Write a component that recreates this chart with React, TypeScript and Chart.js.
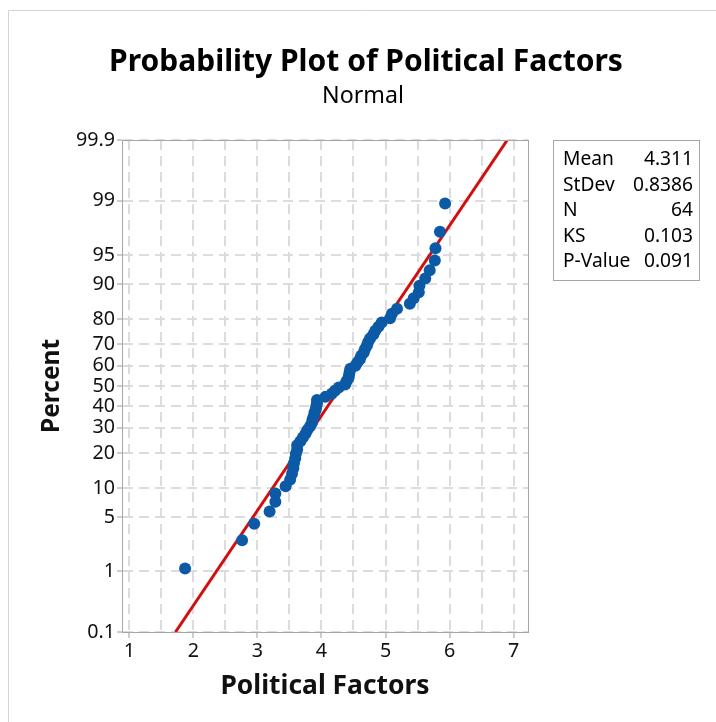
import React, { useEffect, useRef } from 'react';
import { Chart, registerables, LinearScale } from 'chart.js';

// ---------- data ----------
const TITLE = 'Probability Plot of Political Factors';
const SUBTITLE = 'Normal';
const X_TITLE = 'Political Factors';
const Y_TITLE = 'Percent';

const factorValues = [
  1.87, 2.76, 2.95, 3.19, 3.28, 3.28, 3.44, 3.51, 3.54, 3.56,
  3.57, 3.59, 3.6, 3.62, 3.62, 3.67, 3.71, 3.75, 3.78, 3.82,
  3.85, 3.86, 3.88, 3.89, 3.91, 3.92, 3.93, 3.93, 4.06, 4.16,
  4.21, 4.27, 4.37, 4.39, 4.42, 4.43, 4.44, 4.45, 4.53, 4.56,
  4.6, 4.62, 4.66, 4.68, 4.71, 4.73, 4.76, 4.81, 4.84, 4.89,
  4.94, 5.07, 5.1, 5.18, 5.38, 5.44, 5.52, 5.53, 5.62, 5.69,
  5.77, 5.78, 5.85, 5.93,
];

const percentValues = [
  1.09, 2.64, 4.19, 5.75, 7.3, 8.85, 10.4, 11.96, 13.51, 15.06,
  16.61, 18.17, 19.72, 21.27, 22.83, 24.38, 25.93, 27.48, 29.04, 30.59,
  32.14, 33.7, 35.25, 36.8, 38.35, 39.91, 41.46, 43.01, 44.57, 46.12,
  47.67, 49.22, 50.78, 52.33, 53.88, 55.43, 56.99, 58.54, 60.09, 61.65,
  63.2, 64.75, 66.3, 67.86, 69.41, 70.96, 72.52, 74.07, 75.62, 77.17,
  78.73, 80.28, 81.83, 83.39, 84.94, 86.49, 88.04, 89.6, 91.15, 92.7,
  94.25, 95.81, 97.36, 98.91,
];

const fitX = [1.72, 6.902];
const fitY = [0.1, 99.9];

const percentTicks = [0.1, 1, 5, 10, 20, 30, 40, 50, 60, 70, 80, 90, 95, 99, 99.9];
const xGridValues = [1, 1.5, 2, 2.5, 3, 3.5, 4, 4.5, 5, 5.5, 6, 6.5, 7];
const xTickLabels = ['1', '2', '3', '4', '5', '6', '7'];

const statLabels = ['Mean', 'StDev', 'N', 'KS', 'P-Value'];
const statValues = ['4.311', '0.8386', '64', '0.103', '0.091'];

// ---------- probit helpers ----------
function normInv(p: number): number {
  const a = [-3.969683028665376e1, 2.209460984245205e2, -2.759285104469687e2, 1.38357751867269e2, -3.066479806614716e1, 2.506628277459239];
  const b = [-5.447609879822406e1, 1.615858368580409e2, -1.556989798598866e2, 6.680131188771972e1, -1.328068155288572e1];
  const c = [-7.784894002430293e-3, -3.223964580411365e-1, -2.400758277161838, -2.549732539343734, 4.374664141464968, 2.938163982698783];
  const d = [7.784695709041462e-3, 3.224671290700398e-1, 2.445134137142996, 3.754408661907416];
  const pp = Math.min(Math.max(p, 1e-9), 1 - 1e-9);
  const pl = 0.02425;
  let q: number, r: number;
  if (pp < pl) {
    q = Math.sqrt(-2 * Math.log(pp));
    return (((((c[0] * q + c[1]) * q + c[2]) * q + c[3]) * q + c[4]) * q + c[5]) / ((((d[0] * q + d[1]) * q + d[2]) * q + d[3]) * q + 1);
  }
  if (pp <= 1 - pl) {
    q = pp - 0.5;
    r = q * q;
    return ((((((a[0] * r + a[1]) * r + a[2]) * r + a[3]) * r + a[4]) * r + a[5]) * q) / (((((b[0] * r + b[1]) * r + b[2]) * r + b[3]) * r + b[4]) * r + 1);
  }
  q = Math.sqrt(-2 * Math.log(1 - pp));
  return -(((((c[0] * q + c[1]) * q + c[2]) * q + c[3]) * q + c[4]) * q + c[5]) / ((((d[0] * q + d[1]) * q + d[2]) * q + d[3]) * q + 1);
}

function normCdf(z: number): number {
  const t = 1 / (1 + 0.3275911 * Math.abs(z) / Math.SQRT2);
  const y = 1 - (((((1.061405429 * t - 1.453152027) * t) + 1.421413741) * t - 0.284496736) * t + 0.254829592) * t * Math.exp(-(z * z) / 2);
  return z >= 0 ? (1 + y) / 2 : (1 - y) / 2;
}

class ProbitScale extends LinearScale {
  static id = 'probit';
  static defaults = {};
  _zMin = 0;
  _zMax = 1;
  buildTicks() {
    const self: any = this;
    self.start = self.min;
    self.end = self.max;
    return percentTicks.map((v) => ({ value: v }));
  }
  configure() {
    super.configure();
    const self: any = this;
    this._zMin = normInv(self.min / 100);
    this._zMax = normInv(self.max / 100);
  }
  getPixelForValue(value: number) {
    const z = normInv(value / 100);
    return (this as any).getPixelForDecimal((z - this._zMin) / (this._zMax - this._zMin));
  }
  getValueForPixel(pixel: number) {
    const dec = (this as any).getDecimalForPixel(pixel);
    return normCdf(this._zMin + dec * (this._zMax - this._zMin)) * 100;
  }
}

Chart.register(...registerables, ProbitScale as any);

const FAMILY = '"Noto Sans", "DejaVu Sans", sans-serif';

function fitSize(text: string, weight: string, target: number): number {
  const c = document.createElement('canvas').getContext('2d')!;
  c.font = `${weight} 100px ${FAMILY}`;
  const w = c.measureText(text).width;
  return Math.round((100 * target) / w * 10) / 10;
}

export default function App() {
  const ref = useRef<HTMLCanvasElement | null>(null);

  useEffect(() => {
    document.body.style.margin = '0';
    const canvas = ref.current!;
    const titleSize = fitSize(TITLE, 'bold', 513);
    const subSize = fitSize(SUBTITLE, 'normal', 82);
    const yTitleSize = fitSize(Y_TITLE, 'bold', 94);
    const xTitleSize = fitSize(X_TITLE, 'bold', 209);
    const tickSize = fitSize('99.9', 'normal', 39);
    const statSize = fitSize('0.8386', 'normal', 60);

    const decor = {
      id: 'decor',
      beforeDraw(chart: any) {
        const { ctx } = chart;
        ctx.save();
        ctx.fillStyle = '#ffffff';
        ctx.fillRect(0, 0, chart.width, chart.height);
        ctx.strokeStyle = '#d4d4d4';
        ctx.lineWidth = 1;
        ctx.beginPath();
        ctx.moveTo(8.5, chart.height);
        ctx.lineTo(8.5, 10.5);
        ctx.lineTo(chart.width, 10.5);
        ctx.stroke();
        ctx.restore();
      },
      afterDraw(chart: any) {
        const { ctx, chartArea: ca } = chart;
        ctx.save();
        ctx.strokeStyle = '#a6a6a6';
        ctx.lineWidth = 1;
        ctx.strokeRect(Math.round(ca.left) + 0.5, Math.round(ca.top) + 0.5, Math.round(ca.right - ca.left), Math.round(ca.bottom - ca.top));

        ctx.fillStyle = '#000';
        ctx.textAlign = 'center';
        ctx.textBaseline = 'middle';
        ctx.font = `bold ${titleSize}px ${FAMILY}`;
        ctx.fillText(TITLE, 366, 62);
        ctx.font = `normal ${subSize}px ${FAMILY}`;
        ctx.fillText(SUBTITLE, 363, 96);

        // stats box
        const bx = 553, by = 140, bw = 146, bh = 140;
        ctx.strokeStyle = '#a6a6a6';
        ctx.strokeRect(bx + 0.5, by + 0.5, bw, bh);
        ctx.font = `normal ${statSize}px ${FAMILY}`;
        ctx.textBaseline = 'alphabetic';
        statLabels.forEach((lab, i) => {
          const y = 165 + i * 25.5;
          ctx.textAlign = 'left';
          ctx.fillText(lab, bx + 10, y);
          ctx.textAlign = 'right';
          ctx.fillText(statValues[i], bx + bw - 6, y);
        });
        ctx.restore();
      },
    };

    const chart = new Chart(canvas, {
      type: 'scatter',
      data: {
        datasets: [
          {
            label: 'Political Factors',
            data: factorValues.map((x, i) => ({ x, y: percentValues[i] })),
            backgroundColor: '#0c5aa6',
            borderColor: '#0c5aa6',
            pointRadius: 6,
            pointBorderWidth: 0,
          },
          {
            type: 'line',
            label: 'Fit',
            data: fitX.map((x, i) => ({ x, y: fitY[i] })),
            borderColor: '#d10f0f',
            borderWidth: 3,
            pointRadius: 0,
            showLine: true,
            fill: false,
          } as any,
        ],
      },
      options: {
        animation: false,
        responsive: false,
        events: [],
        layout: { padding: { left: 0, top: 140, right: 188, bottom: 0 } },
        plugins: {
          legend: { display: false },
          tooltip: { enabled: false },
          title: { display: false },
        },
        scales: {
          x: {
            type: 'linear',
            min: 0.885,
            max: 7.225,
            afterFit: (s: any) => { s.height = 90; },
            afterBuildTicks: (s: any) => { s.ticks = xGridValues.map((v) => ({ value: v })); },
            grid: {
              color: '#dcdcdc',
              lineWidth: 2,
              drawTicks: true,
              tickLength: 6,
              tickWidth: 1,
              tickColor: (ctx: any) => (ctx.tick && xTickLabels.includes(String(ctx.tick.value)) ? '#9a9a9a' : 'rgba(0,0,0,0)'),
              tickBorderDash: [],
            },
            border: { display: true, color: '#a6a6a6', width: 1, dash: [10, 6] },
            ticks: {
              autoSkip: false,
              maxRotation: 0,
              padding: 2,
              color: '#111',
              font: { family: FAMILY, size: tickSize },
              callback: (v: any) => (xTickLabels.includes(String(v)) ? String(v) : ''),
            },
            title: {
              display: true,
              text: X_TITLE,
              color: '#111',
              font: { family: FAMILY, size: xTitleSize, weight: 'bold' },
              padding: { top: 0, bottom: 36 - 0.6 * xTitleSize },
            },
          },
          y: {
            type: 'probit' as any,
            min: 0.1,
            max: 99.9,
            afterFit: (s: any) => { s.width = 122; },
            grid: {
              color: '#dcdcdc',
              lineWidth: 2,
              drawTicks: true,
              tickLength: 5,
              tickWidth: 1,
              tickColor: '#9a9a9a',
              tickBorderDash: [],
            },
            border: { display: true, color: '#a6a6a6', width: 1, dash: [10, 6] },
            ticks: {
              autoSkip: false,
              padding: 2,
              color: '#111',
              font: { family: FAMILY, size: tickSize },
              callback: (v: any) => String(v),
            },
            title: {
              display: true,
              text: Y_TITLE,
              color: '#111',
              font: { family: FAMILY, size: yTitleSize, weight: 'bold' },
              padding: { top: 52 - 0.6 * yTitleSize, bottom: 0 },
            },
          } as any,
        },
      },
      plugins: [decor],
    });
    return () => chart.destroy();
  }, []);

  return <canvas ref={ref} width={716} height={722} style={{ display: 'block' }} />;
}
